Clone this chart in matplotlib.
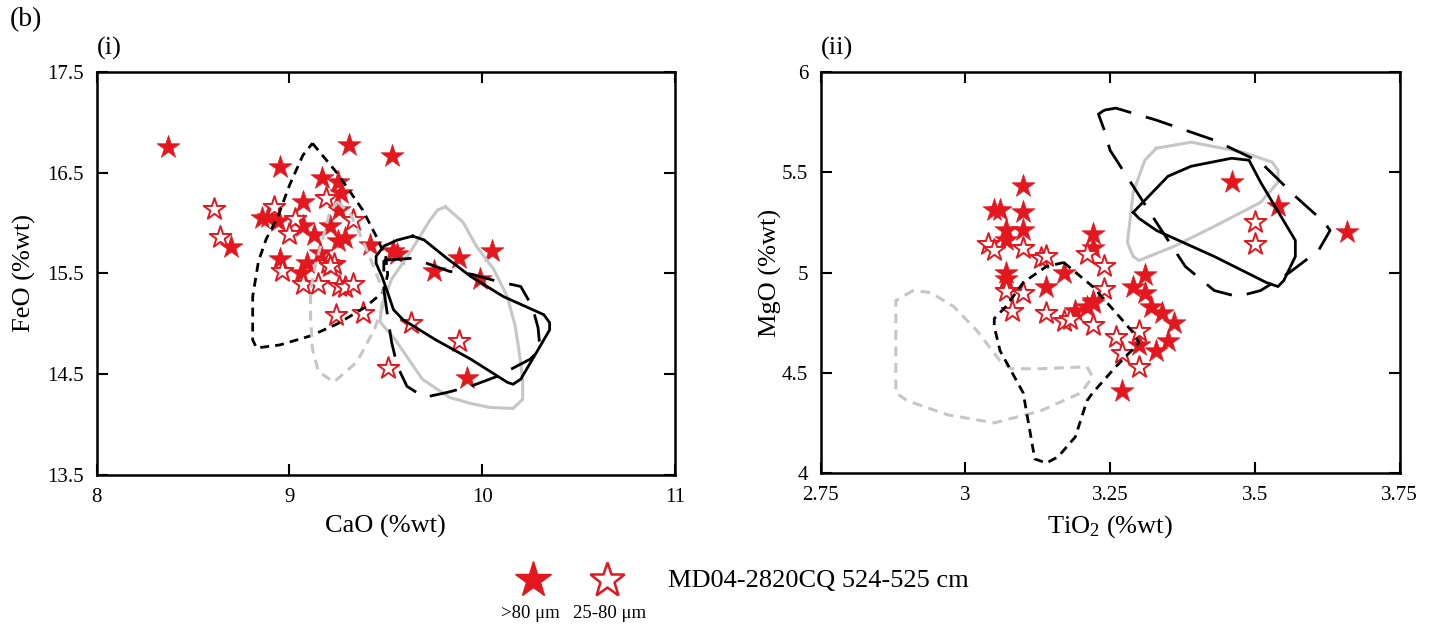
import matplotlib
matplotlib.use("Agg")
import matplotlib.pyplot as plt
from matplotlib.lines import Line2D

plt.rcParams["font.family"] = ["Liberation Serif", "DejaVu Serif"]
plt.rcParams["mathtext.fontset"] = "custom"
plt.rcParams["mathtext.rm"] = "Liberation Serif"
plt.rcParams["mathtext.it"] = "Liberation Serif:italic"

RED = "#e4171e"
GREY = "#c6c6c6"

# ---- panel (i): CaO vs FeO ----
cao_big = [8.37, 8.95, 9.31, 9.53, 9.17, 9.25, 9.27, 9.07, 9.26, 8.86, 8.89, 8.94, 9.07, 9.13, 9.21,
           9.25, 9.29, 9.42, 8.95, 9.09, 9.06, 8.70, 9.16, 9.54, 9.56, 9.75, 9.88, 10.05, 9.99, 9.92]
feo_big = [16.75, 16.55, 16.77, 16.66, 16.45, 16.41, 16.30, 16.21, 16.13, 16.05, 16.06, 16.02, 15.97, 15.88, 15.97,
           15.82, 15.85, 15.78, 15.64, 15.60, 15.50, 15.76, 15.70, 15.72, 15.69, 15.52, 15.65, 15.72, 15.44, 14.46]
cao_small = [8.61, 8.64, 8.92, 9.19, 9.03, 9.00, 9.33, 8.96, 9.20, 9.23, 9.21, 9.07, 9.15, 9.26, 9.29,
             9.33, 9.24, 9.38, 9.51, 9.63, 9.88]
feo_small = [16.14, 15.86, 16.16, 16.25, 16.04, 15.89, 16.03, 15.52, 15.60, 15.59, 15.57, 15.39, 15.39, 15.37, 15.36,
             15.39, 15.09, 15.11, 14.56, 15.01, 14.83]

# reference fields (outlines)
f1_cao = [9.12, 9.25, 9.38, 9.45, 9.50, 9.51, 9.49, 9.39, 9.25, 9.11, 8.95, 8.83, 8.81, 8.81, 8.81, 8.84, 8.88, 8.94, 9.00, 9.07]
f1_feo = [16.79, 16.49, 16.13, 15.87, 15.66, 15.49, 15.32, 15.16, 15.00, 14.88, 14.79, 14.76, 14.84, 15.08, 15.27, 15.62, 15.84, 16.06, 16.37, 16.67]
f2_cao = [9.25, 9.32, 9.38, 9.43, 9.50, 9.44, 9.35, 9.23, 9.15, 9.12, 9.11, 9.11, 9.14, 9.18, 9.21]
f2_feo = [16.21, 16.08, 15.83, 15.60, 15.25, 14.94, 14.62, 14.42, 14.53, 14.75, 15.07, 15.34, 15.62, 15.89, 16.11]
f3_cao = [9.81, 9.90, 9.97, 10.06, 10.13, 10.17, 10.19, 10.21, 10.21, 10.16, 10.04, 9.94, 9.83, 9.69, 9.55,
          9.47, 9.48, 9.53, 9.63, 9.73, 9.77]
f3_feo = [16.16, 16.01, 15.77, 15.54, 15.27, 14.99, 14.75, 14.45, 14.25, 14.16, 14.17, 14.21, 14.27, 14.45, 14.84,
          15.02, 15.19, 15.44, 15.72, 16.03, 16.13]
f4_cao = [9.64, 9.70, 9.81, 9.94, 10.11, 10.32, 10.35, 10.35, 10.28, 10.20, 10.16, 10.13, 9.94, 9.76, 9.59,
          9.54, 9.51, 9.48, 9.45, 9.45, 9.49, 9.56]
f4_feo = [15.87, 15.83, 15.66, 15.47, 15.27, 15.09, 15.01, 14.94, 14.71, 14.45, 14.40, 14.42, 14.65, 14.84, 15.04,
          15.14, 15.31, 15.47, 15.60, 15.67, 15.77, 15.83]
f5_cao = [9.49, 9.64, 9.83, 9.95, 10.08, 10.20, 10.26, 10.29, 10.30, 10.25, 10.18, 10.08, 9.94, 9.82, 9.70,
          9.61, 9.56, 9.53, 9.51, 9.49]
f5_feo = [15.63, 15.65, 15.52, 15.49, 15.42, 15.37, 15.17, 14.96, 14.75, 14.65, 14.58, 14.48, 14.38, 14.32, 14.27,
          14.38, 14.58, 14.82, 15.07, 15.34]

# ---- panel (ii): TiO2 vs MgO ----
tio2_big = [3.10, 3.05, 3.06, 3.10, 3.07, 3.10, 3.07, 3.22, 3.22, 3.07, 3.07, 3.17, 3.14, 3.31, 3.29,
            3.19, 3.21, 3.22, 3.22, 3.31, 3.32, 3.34, 3.36, 3.35, 3.33, 3.30, 3.27, 3.46, 3.54, 3.66]
mgo_big = [5.43, 5.31, 5.31, 5.30, 5.21, 5.21, 5.16, 5.19, 5.12, 5.00, 4.97, 5.00, 4.93, 4.99, 4.93,
           4.81, 4.83, 4.85, 4.86, 4.90, 4.83, 4.80, 4.75, 4.66, 4.61, 4.64, 4.41, 5.45, 5.33, 5.20]
tio2_small = [3.04, 3.05, 3.10, 3.21, 3.24, 3.13, 3.14, 3.07, 3.10, 3.24, 3.14, 3.17, 3.18, 3.22, 3.26,
              3.30, 3.27, 3.30, 3.08, 3.50, 3.50]
mgo_small = [5.14, 5.11, 5.12, 5.09, 5.03, 5.07, 5.08, 4.91, 4.90, 4.92, 4.80, 4.76, 4.77, 4.74, 4.68,
             4.71, 4.60, 4.53, 4.81, 5.25, 5.14]

g1_tio2 = [2.91, 2.88, 2.88, 2.88, 2.90, 2.97, 3.05, 3.13, 3.20, 3.22, 3.21, 3.13, 3.08, 3.06, 3.02, 2.98, 2.94]
g1_mgo = [4.91, 4.86, 4.73, 4.40, 4.36, 4.29, 4.25, 4.31, 4.40, 4.48, 4.53, 4.52, 4.52, 4.56, 4.71, 4.83, 4.90]
g2_tio2 = [3.17, 3.22, 3.26, 3.29, 3.30, 3.26, 3.22, 3.21, 3.19, 3.16, 3.14, 3.12, 3.10, 3.06, 3.05, 3.05,
           3.07, 3.10, 3.14]
g2_mgo = [5.05, 4.93, 4.80, 4.70, 4.65, 4.53, 4.40, 4.36, 4.18, 4.08, 4.05, 4.07, 4.40, 4.61, 4.73, 4.77,
          4.83, 4.95, 5.03]
g3_tio2 = [3.33, 3.39, 3.48, 3.53, 3.54, 3.54, 3.51, 3.43, 3.36, 3.30, 3.29, 3.28, 3.29, 3.31]
g3_mgo = [5.62, 5.65, 5.60, 5.55, 5.51, 5.45, 5.35, 5.23, 5.13, 5.06, 5.08, 5.15, 5.40, 5.56]
g4_tio2 = [3.29, 3.35, 3.39, 3.46, 3.49, 3.51, 3.57, 3.57, 3.55, 3.54, 3.52, 3.43, 3.33, 3.30]
g4_mgo = [5.30, 5.48, 5.53, 5.57, 5.56, 5.45, 5.16, 5.08, 4.96, 4.93, 4.95, 5.08, 5.21, 5.27]
g5_tio2 = [3.24, 3.26, 3.33, 3.43, 3.51, 3.57, 3.62, 3.63, 3.61, 3.56, 3.51, 3.47, 3.43, 3.38, 3.33,
           3.29, 3.25, 3.24, 3.23]
g5_mgo = [5.81, 5.82, 5.76, 5.66, 5.55, 5.38, 5.25, 5.21, 5.11, 5.00, 4.91, 4.88, 4.91, 5.03, 5.25,
          5.43, 5.61, 5.71, 5.79]


def closed(xs, ys):
    return list(xs) + [xs[0]], list(ys) + [ys[0]]


def draw_field(ax, xs, ys, color, style):
    x, y = closed(xs, ys)
    lw = 2.2 if color == GREY else 2.0
    line, = ax.plot(x, y, color=color, lw=lw, solid_joinstyle="round",
                    dash_joinstyle="round", zorder=4)
    if style == "short":
        line.set_dashes((3.2, 2.2))
    elif style == "long":
        line.set_dashes((10, 5.5))


def draw_stars(ax, xb, yb, xs, ys):
    ax.scatter(xb, yb, marker="*", s=300, color=RED, edgecolors=RED, linewidths=0.5, zorder=3)
    ax.scatter(xs, ys, marker="*", s=270, facecolors="white", edgecolors=RED, linewidths=1.4, zorder=3)


def style_axes(ax):
    for s in ax.spines.values():
        s.set_linewidth(1.8)
    ax.tick_params(which="both", direction="in", top=True, right=True, width=1.5,
                   labelsize=15, pad=9)
    ax.tick_params(which="major", length=8)
    ax.tick_params(which="minor", length=15)


fig = plt.figure(figsize=(14.34, 6.29), dpi=100)
ax1 = fig.add_axes([0.0673, 0.2448, 0.4034, 0.6412])
ax2 = fig.add_axes([0.5722, 0.2480, 0.4038, 0.6375])

# panel (i)
draw_stars(ax1, cao_big, feo_big, cao_small, feo_small)
draw_field(ax1, f1_cao, f1_feo, "black", "short")
draw_field(ax1, f2_cao, f2_feo, GREY, "short")
draw_field(ax1, f3_cao, f3_feo, GREY, "solid")
draw_field(ax1, f4_cao, f4_feo, "black", "solid")
draw_field(ax1, f5_cao, f5_feo, "black", "long")
ax1.set_xlim(8, 11)
ax1.set_ylim(13.5, 17.5)
ax1.set_xticks([8, 9, 10, 11])
ax1.set_xticklabels(["8", "9", "10", "11"])
ax1.set_xticks([10], minor=True)
ax1.set_yticks([13.5, 14.5, 15.5, 16.5, 17.5])
ax1.set_yticklabels(["13.5", "14.5", "15.5", "16.5", "17.5"])
ax1.set_yticks([15.5], minor=True)
style_axes(ax1)
ax1.set_xlabel("CaO (%wt)", fontsize=19, labelpad=6)
ax1.set_ylabel("FeO (%wt)", fontsize=19, labelpad=8)

# panel (ii)
draw_stars(ax2, tio2_big, mgo_big, tio2_small, mgo_small)
draw_field(ax2, g1_tio2, g1_mgo, GREY, "short")
draw_field(ax2, g2_tio2, g2_mgo, "black", "short")
draw_field(ax2, g3_tio2, g3_mgo, GREY, "solid")
draw_field(ax2, g4_tio2, g4_mgo, "black", "solid")
draw_field(ax2, g5_tio2, g5_mgo, "black", "long")
ax2.set_xlim(2.75, 3.75)
ax2.set_ylim(4, 6)
ax2.set_xticks([2.75, 3, 3.25, 3.5, 3.75])
ax2.set_xticklabels(["2.75", "3", "3.25", "3.5", "3.75"])
ax2.set_yticks([4, 4.5, 5, 5.5, 6])
ax2.set_yticklabels(["4", "4.5", "5", "5.5", "6"])
ax2.set_yticks([5], minor=True)
style_axes(ax2)
ax2.set_xlabel("TiO$_2$ (%wt)", fontsize=19, labelpad=6)
ax2.set_ylabel("MgO (%wt)", fontsize=19, labelpad=0)

# panel labels
fig.text(10 / 1434, 1 - 20 / 629, "(b)", fontsize=20, va="center", ha="left")
fig.text(97 / 1434, 1 - 48 / 629, "(i)", fontsize=19, va="center", ha="left")
fig.text(821 / 1434, 1 - 48 / 629, "(ii)", fontsize=19, va="center", ha="left")

# legend
fig.add_artist(Line2D([533 / 1434], [1 - 580 / 629], marker="*", markersize=27, color=RED,
                      markeredgecolor=RED, transform=fig.transFigure))
fig.add_artist(Line2D([607 / 1434], [1 - 580 / 629], marker="*", markersize=26, color=RED,
                      markerfacecolor="white", markeredgecolor=RED, markeredgewidth=1.8,
                      transform=fig.transFigure))
fig.text(530 / 1434, 1 - 614 / 629, ">80 \u03bcm", fontsize=13.5, ha="center", va="center")
fig.text(610 / 1434, 1 - 614 / 629, "25-80 \u03bcm", fontsize=13.5, ha="center", va="center")
fig.text(668 / 1434, 1 - 581 / 629, "MD04-2820CQ 524-525 cm", fontsize=19, ha="left", va="center")

fig.savefig("out.png", dpi=100)
